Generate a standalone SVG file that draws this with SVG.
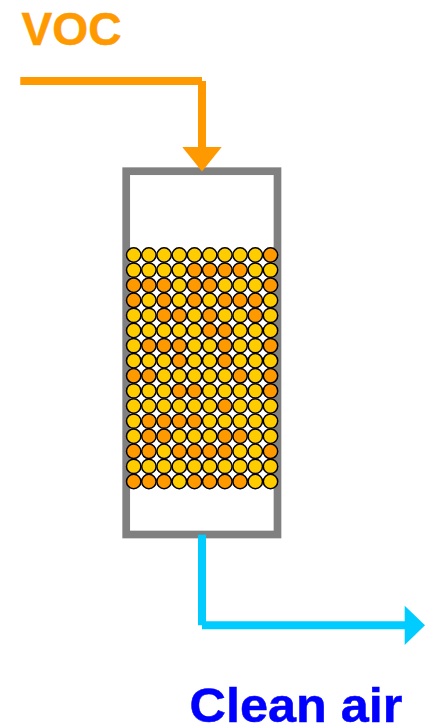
<svg xmlns="http://www.w3.org/2000/svg" width="425" height="724" viewBox="0 0 425 724">
<defs><style>
text{font-family:"Liberation Sans",Arial,sans-serif;font-weight:bold;stroke-width:.5}
.y,.o{stroke:#000;stroke-width:1.5}
.y{fill:#fc0}.o{fill:#f90}
</style>
<circle id="p" r="7.2"/></defs>
<rect width="425" height="724" fill="#fff"/>
<g id="voc-label"><text x="21.5" y="44.6" font-size="45.5" textLength="100" lengthAdjust="spacingAndGlyphs" fill="#f90" stroke="#f90">VOC</text></g>
<g id="clean-air-label"><text x="189.5" y="721.5" font-size="47.5" textLength="213" lengthAdjust="spacingAndGlyphs" fill="#00f" stroke="#00f">Clean air</text></g>
<g id="column"><rect x="126.2" y="171.2" width="151.3" height="363.3" fill="none" stroke="#808080" stroke-width="7.7"/></g>
<g id="connectors">
<g id="voc-in"><path d="M20.3 81H202M202 81V148" fill="none" stroke="#f90" stroke-width="8"/><polygon points="182.3,147 221.7,147 202,171.5" fill="#f90"/></g>
<g id="clean-out"><path d="M202 534.7V625.3M202 625.3H405" fill="none" stroke="#0cf" stroke-width="8"/><polygon points="404.7,605.7 425,625.3 404.7,645" fill="#0cf"/></g>
</g>
<g id="packing">
<g transform="translate(0,255)">
<use href="#p" class="y" x="133.7"/><use href="#p" class="y" x="148.9"/><use href="#p" class="y" x="164.1"/><use href="#p" class="y" x="179.3"/><use href="#p" class="y" x="194.5"/><use href="#p" class="y" x="209.7"/><use href="#p" class="y" x="224.9"/><use href="#p" class="y" x="240.1"/><use href="#p" class="y" x="255.3"/><use href="#p" class="o" x="270.5"/>
</g>
<g transform="translate(0,270.1)">
<use href="#p" class="y" x="133.7"/><use href="#p" class="y" x="148.9"/><use href="#p" class="y" x="164.1"/><use href="#p" class="y" x="179.3"/><use href="#p" class="o" x="194.5"/><use href="#p" class="o" x="209.7"/><use href="#p" class="o" x="224.9"/><use href="#p" class="o" x="240.1"/><use href="#p" class="y" x="255.3"/><use href="#p" class="y" x="270.5"/>
</g>
<g transform="translate(0,285.2)">
<use href="#p" class="o" x="133.7"/><use href="#p" class="o" x="148.9"/><use href="#p" class="o" x="164.1"/><use href="#p" class="y" x="179.3"/><use href="#p" class="o" x="194.5"/><use href="#p" class="o" x="209.7"/><use href="#p" class="y" x="224.9"/><use href="#p" class="y" x="240.1"/><use href="#p" class="y" x="255.3"/><use href="#p" class="o" x="270.5"/>
</g>
<g transform="translate(0,300.3)">
<use href="#p" class="o" x="133.7"/><use href="#p" class="y" x="148.9"/><use href="#p" class="o" x="164.1"/><use href="#p" class="y" x="179.3"/><use href="#p" class="o" x="194.5"/><use href="#p" class="y" x="209.7"/><use href="#p" class="o" x="224.9"/><use href="#p" class="o" x="240.1"/><use href="#p" class="o" x="255.3"/><use href="#p" class="y" x="270.5"/>
</g>
<g transform="translate(0,315.4)">
<use href="#p" class="y" x="133.7"/><use href="#p" class="y" x="148.9"/><use href="#p" class="o" x="164.1"/><use href="#p" class="o" x="179.3"/><use href="#p" class="y" x="194.5"/><use href="#p" class="o" x="209.7"/><use href="#p" class="y" x="224.9"/><use href="#p" class="y" x="240.1"/><use href="#p" class="o" x="255.3"/><use href="#p" class="y" x="270.5"/>
</g>
<g transform="translate(0,330.5)">
<use href="#p" class="y" x="133.7"/><use href="#p" class="y" x="148.9"/><use href="#p" class="y" x="164.1"/><use href="#p" class="y" x="179.3"/><use href="#p" class="y" x="194.5"/><use href="#p" class="o" x="209.7"/><use href="#p" class="o" x="224.9"/><use href="#p" class="y" x="240.1"/><use href="#p" class="y" x="255.3"/><use href="#p" class="y" x="270.5"/>
</g>
<g transform="translate(0,345.6)">
<use href="#p" class="y" x="133.7"/><use href="#p" class="o" x="148.9"/><use href="#p" class="o" x="164.1"/><use href="#p" class="o" x="179.3"/><use href="#p" class="y" x="194.5"/><use href="#p" class="y" x="209.7"/><use href="#p" class="o" x="224.9"/><use href="#p" class="y" x="240.1"/><use href="#p" class="y" x="255.3"/><use href="#p" class="o" x="270.5"/>
</g>
<g transform="translate(0,360.7)">
<use href="#p" class="y" x="133.7"/><use href="#p" class="y" x="148.9"/><use href="#p" class="y" x="164.1"/><use href="#p" class="o" x="179.3"/><use href="#p" class="y" x="194.5"/><use href="#p" class="y" x="209.7"/><use href="#p" class="o" x="224.9"/><use href="#p" class="y" x="240.1"/><use href="#p" class="y" x="255.3"/><use href="#p" class="y" x="270.5"/>
</g>
<g transform="translate(0,375.8)">
<use href="#p" class="o" x="133.7"/><use href="#p" class="o" x="148.9"/><use href="#p" class="y" x="164.1"/><use href="#p" class="y" x="179.3"/><use href="#p" class="y" x="194.5"/><use href="#p" class="y" x="209.7"/><use href="#p" class="y" x="224.9"/><use href="#p" class="o" x="240.1"/><use href="#p" class="y" x="255.3"/><use href="#p" class="o" x="270.5"/>
</g>
<g transform="translate(0,390.9)">
<use href="#p" class="y" x="133.7"/><use href="#p" class="y" x="148.9"/><use href="#p" class="y" x="164.1"/><use href="#p" class="o" x="179.3"/><use href="#p" class="o" x="194.5"/><use href="#p" class="y" x="209.7"/><use href="#p" class="y" x="224.9"/><use href="#p" class="y" x="240.1"/><use href="#p" class="y" x="255.3"/><use href="#p" class="o" x="270.5"/>
</g>
<g transform="translate(0,406)">
<use href="#p" class="y" x="133.7"/><use href="#p" class="y" x="148.9"/><use href="#p" class="y" x="164.1"/><use href="#p" class="y" x="179.3"/><use href="#p" class="y" x="194.5"/><use href="#p" class="y" x="209.7"/><use href="#p" class="o" x="224.9"/><use href="#p" class="y" x="240.1"/><use href="#p" class="y" x="255.3"/><use href="#p" class="y" x="270.5"/>
</g>
<g transform="translate(0,421.1)">
<use href="#p" class="y" x="133.7"/><use href="#p" class="o" x="148.9"/><use href="#p" class="o" x="164.1"/><use href="#p" class="o" x="179.3"/><use href="#p" class="o" x="194.5"/><use href="#p" class="y" x="209.7"/><use href="#p" class="y" x="224.9"/><use href="#p" class="y" x="240.1"/><use href="#p" class="y" x="255.3"/><use href="#p" class="y" x="270.5"/>
</g>
<g transform="translate(0,436.2)">
<use href="#p" class="y" x="133.7"/><use href="#p" class="o" x="148.9"/><use href="#p" class="o" x="164.1"/><use href="#p" class="y" x="179.3"/><use href="#p" class="y" x="194.5"/><use href="#p" class="y" x="209.7"/><use href="#p" class="o" x="224.9"/><use href="#p" class="o" x="240.1"/><use href="#p" class="y" x="255.3"/><use href="#p" class="y" x="270.5"/>
</g>
<g transform="translate(0,451.3)">
<use href="#p" class="o" x="133.7"/><use href="#p" class="o" x="148.9"/><use href="#p" class="y" x="164.1"/><use href="#p" class="o" x="179.3"/><use href="#p" class="o" x="194.5"/><use href="#p" class="o" x="209.7"/><use href="#p" class="o" x="224.9"/><use href="#p" class="y" x="240.1"/><use href="#p" class="y" x="255.3"/><use href="#p" class="o" x="270.5"/>
</g>
<g transform="translate(0,466.4)">
<use href="#p" class="y" x="133.7"/><use href="#p" class="y" x="148.9"/><use href="#p" class="y" x="164.1"/><use href="#p" class="y" x="179.3"/><use href="#p" class="y" x="194.5"/><use href="#p" class="y" x="209.7"/><use href="#p" class="y" x="224.9"/><use href="#p" class="y" x="240.1"/><use href="#p" class="y" x="255.3"/><use href="#p" class="y" x="270.5"/>
</g>
<g transform="translate(0,481.5)">
<use href="#p" class="o" x="133.7"/><use href="#p" class="o" x="148.9"/><use href="#p" class="o" x="164.1"/><use href="#p" class="y" x="179.3"/><use href="#p" class="o" x="194.5"/><use href="#p" class="o" x="209.7"/><use href="#p" class="o" x="224.9"/><use href="#p" class="o" x="240.1"/><use href="#p" class="y" x="255.3"/><use href="#p" class="y" x="270.5"/>
</g>
</g>
</svg>
